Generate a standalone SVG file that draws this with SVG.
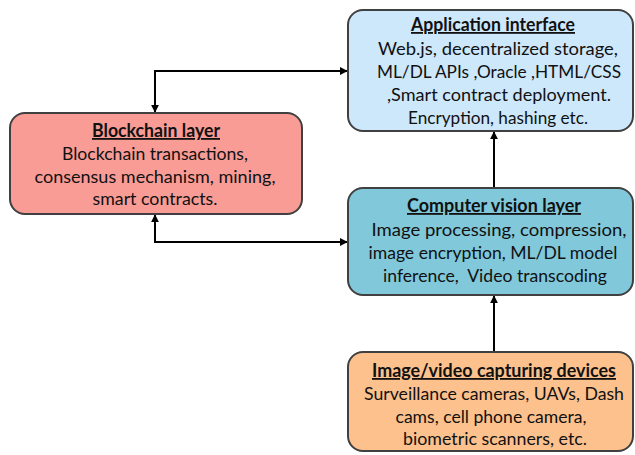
<svg xmlns="http://www.w3.org/2000/svg" width="635" height="455" viewBox="0 0 635 455">
  <defs>
    <style>
      .box { stroke: #404040; stroke-width: 2; }
      .t { font-family: Lato, "Open Sans", "Liberation Sans", sans-serif; font-size: 18px; fill: #111; text-anchor: middle; white-space: pre; }
      .h { font-weight: bold; text-decoration: underline; }
      .wire { fill: none; stroke: #000; stroke-width: 2; }
    </style>
    <marker id="arrow" viewBox="0 0 10 10" refX="9" refY="5" markerWidth="4" markerHeight="4" orient="auto-start-reverse" markerUnits="strokeWidth">
      <path d="M0,0 L10,5 L0,10 Z" fill="#000"/>
    </marker>
  </defs>

  <rect width="635" height="455" fill="#fff"/>

  <!-- connectors -->
  <g id="connectors">
    <path class="wire" d="M155,112 V71 H347" marker-start="url(#arrow)" marker-end="url(#arrow)"/>
    <path class="wire" d="M155,215 V242 H347" marker-start="url(#arrow)" marker-end="url(#arrow)"/>
    <path class="wire" d="M494,187 V132" marker-end="url(#arrow)"/>
    <path class="wire" d="M494,351 V296" marker-end="url(#arrow)"/>
  </g>

  <g id="app-interface">
    <rect class="box" x="348" y="10" width="285" height="121" rx="15" fill="#cde7fb"/>
    <text class="t h" x="493" y="31" textLength="164" lengthAdjust="spacingAndGlyphs">Application interface</text>
    <text class="t" x="498" y="55" textLength="240" lengthAdjust="spacingAndGlyphs">Web.js, decentralized storage,</text>
    <text class="t" x="499" y="78" textLength="244" lengthAdjust="spacingAndGlyphs">ML/DL APIs ,Oracle ,HTML/CSS</text>
    <text class="t" x="499" y="101" textLength="224" lengthAdjust="spacingAndGlyphs">,Smart contract deployment.</text>
    <text class="t" x="498" y="124" textLength="180" lengthAdjust="spacingAndGlyphs">Encryption, hashing etc.</text>
  </g>

  <g id="blockchain-layer">
    <rect class="box" x="10" y="113" width="292" height="101" rx="15" fill="#f99c96"/>
    <text class="t h" x="156" y="137" textLength="128" lengthAdjust="spacingAndGlyphs">Blockchain layer</text>
    <text class="t" x="155" y="160" textLength="186" lengthAdjust="spacingAndGlyphs">Blockchain transactions,</text>
    <text class="t" x="155" y="183" textLength="241" lengthAdjust="spacingAndGlyphs">consensus mechanism, mining,</text>
    <text class="t" x="155" y="205" textLength="125" lengthAdjust="spacingAndGlyphs">smart contracts.</text>
  </g>

  <g id="computer-vision-layer">
    <rect class="box" x="348" y="188" width="285" height="107" rx="15" fill="#80c8da"/>
    <text class="t h" x="494" y="212" textLength="174" lengthAdjust="spacingAndGlyphs">Computer vision layer</text>
    <text class="t" x="499" y="236" textLength="255" lengthAdjust="spacingAndGlyphs">Image processing, compression,</text>
    <text class="t" x="493" y="259" textLength="249" lengthAdjust="spacingAndGlyphs">image encryption, ML/DL model</text>
    <text class="t" x="495" y="282" textLength="224" lengthAdjust="spacingAndGlyphs">inference,  Video transcoding</text>
  </g>

  <g id="capture-devices">
    <rect class="box" x="348" y="352" width="285" height="99" rx="15" fill="#fcc18d"/>
    <text class="t h" x="494" y="377" textLength="244" lengthAdjust="spacingAndGlyphs">Image/video capturing devices</text>
    <text class="t" x="494" y="400" textLength="260" lengthAdjust="spacingAndGlyphs">Surveillance cameras, UAVs, Dash</text>
    <text class="t" x="491" y="423" textLength="191" lengthAdjust="spacingAndGlyphs">cams, cell phone camera,</text>
    <text class="t" x="495" y="445" textLength="184" lengthAdjust="spacingAndGlyphs">biometric scanners, etc.</text>
  </g>
</svg>
